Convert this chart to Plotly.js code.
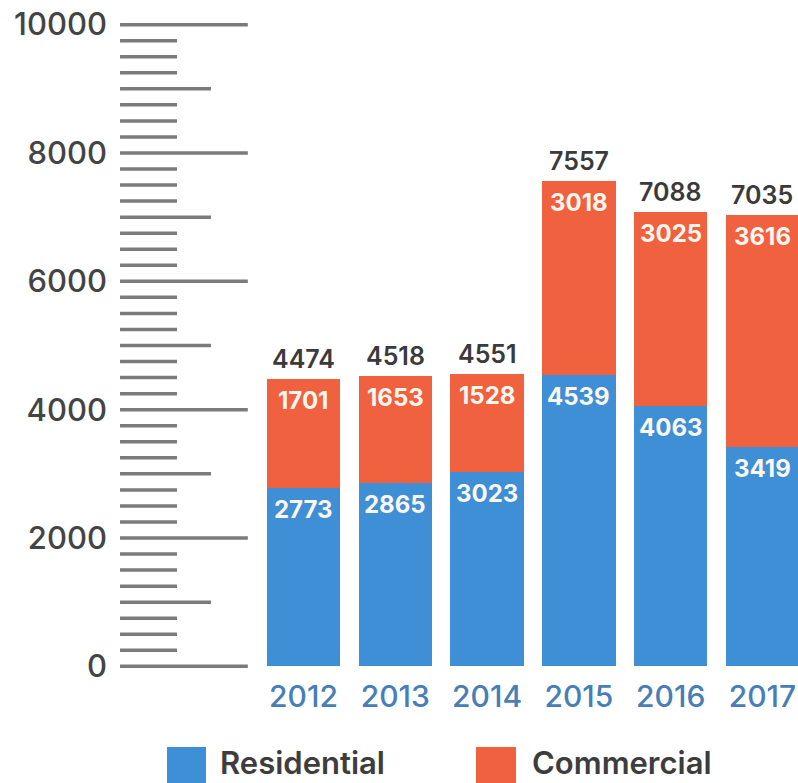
<!DOCTYPE html>
<html>
<head>
<meta charset="utf-8">
<script src="https://cdn.plot.ly/plotly-3.0.1.min.js"></script>
<style>html,body{margin:0;padding:0;background:#fff;}#chart{width:798px;height:783px;}</style>
</head>
<body>
<div id="chart"></div>
<script>
const years = ['2012', '2013', '2014', '2015', '2016', '2017'];
const residential = [2773, 2865, 3023, 4539, 4063, 3419];
const commercial = [1701, 1653, 1528, 3018, 3025, 3616];
const seriesNames = ['Residential', 'Commercial'];
const seriesColors = ['#3e8fd6', '#f0623f'];
const yTickValues = [0, 2000, 4000, 6000, 8000, 10000];
const rulerStep = 250;

const totals = residential.map((v, i) => v + commercial[i]);

const FONT = 'Inter, "Open Sans", sans-serif';

const traces = [
  {
    type: 'bar', name: seriesNames[0], x: years, y: residential,
    marker: {color: seriesColors[0]}, showlegend: false, hoverinfo: 'skip'
  },
  {
    type: 'bar', name: seriesNames[1], x: years, y: commercial,
    marker: {color: seriesColors[1]}, showlegend: false, hoverinfo: 'skip'
  }
];

const annotations = [];
// value labels inside the top of each segment, totals above each bar
years.forEach((yr, i) => {
  annotations.push({x: i, y: residential[i], xref: 'x', yref: 'y', text: String(residential[i]),
    showarrow: false, yanchor: 'top', yshift: -5,
    font: {family: FONT, size: 24, color: '#fbf6ee', weight: 700}});
  annotations.push({x: i, y: totals[i], xref: 'x', yref: 'y', text: String(commercial[i]),
    showarrow: false, yanchor: 'top', yshift: -5,
    font: {family: FONT, size: 24, color: '#fbf6ee', weight: 700}});
  annotations.push({x: i, y: totals[i], xref: 'x', yref: 'y', text: String(totals[i]),
    showarrow: false, yanchor: 'bottom', yshift: 3,
    font: {family: FONT, size: 25, color: '#3a3a3a', weight: 600}});
});

// ruler-style y axis
const shapes = [];
const rulerX0 = 0.0117;
for (let v = 0; v <= 10000; v += rulerStep) {
  let x1 = 0.0948;
  if (v % 2000 === 0) { x1 = 0.198; }
  else if (v % 1000 === 0) { x1 = 0.1443; }
  shapes.push({type: 'line', xref: 'paper', yref: 'y', x0: rulerX0, x1: x1, y0: v, y1: v,
    line: {color: '#7b7b7b', width: 3.5}, layer: 'below'});
}

// custom legend with large swatches
const legendItems = [
  {x0: 0.0802, x1: 0.137, tx: 0.154},
  {x0: 0.5306, x1: 0.5889, tx: 0.609}
];
legendItems.forEach((it, i) => {
  shapes.push({type: 'rect', xref: 'paper', yref: 'paper', x0: it.x0, x1: it.x1, y0: -0.1725, y1: -0.1074,
    fillcolor: seriesColors[i], line: {width: 0}});
  annotations.push({xref: 'paper', yref: 'paper', x: it.tx, y: -0.1316, xanchor: 'left', yanchor: 'middle',
    text: seriesNames[i], showarrow: false, font: {family: FONT, size: 31, color: '#3d3d3d', weight: 600}});
});

const layout = {
  width: 798, height: 783,
  margin: {l: 112, r: 0, t: 15, b: 107},
  paper_bgcolor: '#ffffff', plot_bgcolor: '#ffffff',
  barmode: 'stack', bargap: 0.2,
  showlegend: false,
  xaxis: {
    type: 'category', range: [-2.086, 5.387], showgrid: false, zeroline: false, showline: false,
    ticks: '', ticklabelstandoff: 0,
    tickfont: {family: FONT, size: 30, color: '#467eb5', weight: 500}
  },
  yaxis: {
    range: [-150, 10150], tickvals: yTickValues, ticktext: yTickValues.map(String),
    showgrid: false, zeroline: false, showline: false, ticks: '', ticklabelstandoff: 4,
    tickfont: {family: FONT, size: 31, color: '#444444', weight: 500}
  },
  shapes: shapes,
  annotations: annotations,
  font: {family: FONT}
};

Plotly.newPlot('chart', traces, layout, {displayModeBar: false, staticPlot: true});
</script>
</body>
</html>
